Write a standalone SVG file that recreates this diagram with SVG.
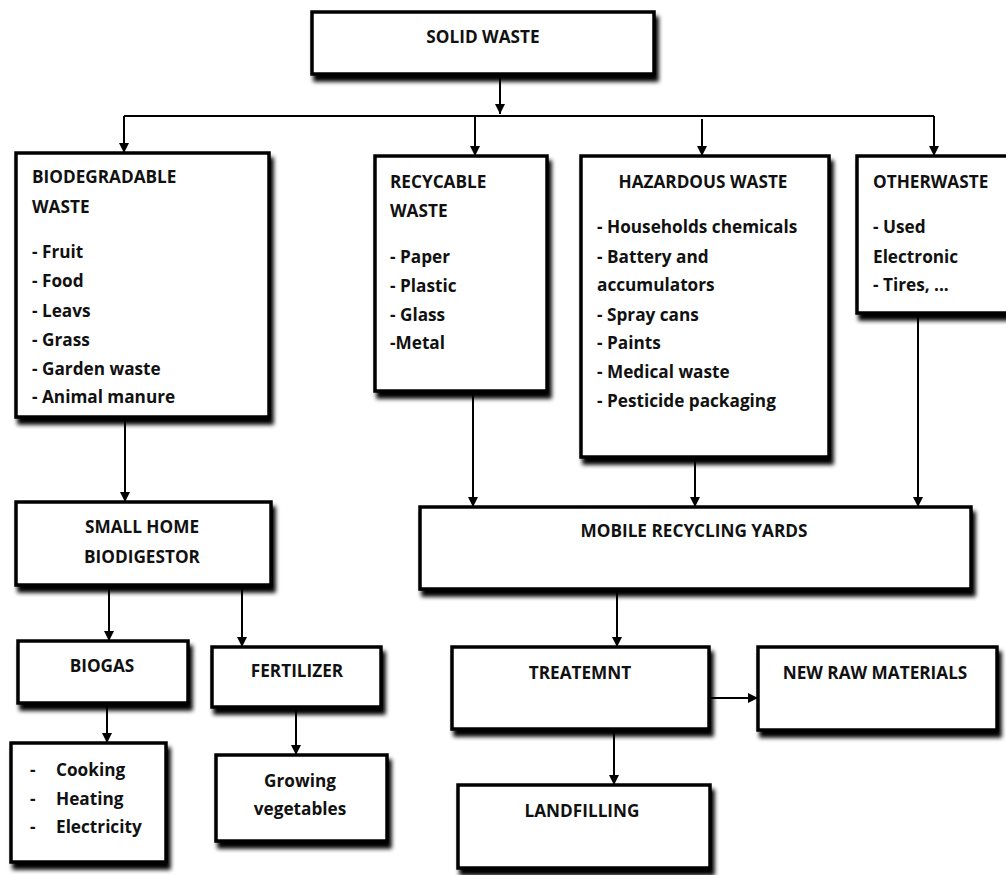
<svg xmlns="http://www.w3.org/2000/svg" width="1006" height="875" viewBox="0 0 1006 875">
<defs>
<style>
.box{fill:#fff;stroke:#000;stroke-width:3.5;filter:url(#sh)}
.t{font-family:"Open Sans","Liberation Sans",sans-serif;font-weight:700;font-size:17.2px;fill:#111}
.c{text-anchor:middle}
.ln{fill:none;stroke:#000;stroke-width:2}
.ar{fill:none;stroke:#000;stroke-width:2;marker-end:url(#ah)}
</style>
<filter id="sh" x="-10%" y="-10%" width="130%" height="140%">
<feDropShadow dx="3" dy="6" stdDeviation="2.2" flood-color="#000" flood-opacity="1"/>
</filter>
<marker id="ah" viewBox="0 0 10 10" refX="10" refY="5" markerWidth="5" markerHeight="5" orient="auto" markerUnits="strokeWidth">
<path d="M0,0L10,5L0,10z" fill="#000"/>
</marker>
</defs>
<rect width="1006" height="875" fill="#fff"/>
<g id="connectors">
<path class="ar" d="M500,76V114"/>
<path class="ln" d="M124,116H934"/>
<path class="ar" d="M124,116V153"/>
<path class="ar" d="M475,116V156"/>
<path class="ar" d="M702,119V156"/>
<path class="ar" d="M934,116V156"/>
<path class="ar" d="M125,419V502"/>
<path class="ar" d="M473,393V507"/>
<path class="ar" d="M695,459V507"/>
<path class="ar" d="M918,315V507"/>
<path class="ar" d="M109,587V641"/>
<path class="ar" d="M242,587V647"/>
<path class="ar" d="M107,705V743"/>
<path class="ar" d="M296,709V755"/>
<path class="ar" d="M617,591V647"/>
<path class="ar" d="M711,698H758"/>
<path class="ar" d="M614,731V785"/>
</g>
<g id="solid-waste">
<rect class="box" x="312" y="12" width="342" height="62"/>
<text class="t c" x="483" y="43">SOLID WASTE</text>
</g>
<g id="biodegradable">
<rect class="box" x="16" y="153" width="253" height="264"/>
<text class="t" x="32" y="183">BIODEGRADABLE</text>
<text class="t" x="32" y="213">WASTE</text>
<text class="t" x="32" y="258">- Fruit</text>
<text class="t" x="32" y="287">- Food</text>
<text class="t" x="32" y="317">- Leavs</text>
<text class="t" x="32" y="346">- Grass</text>
<text class="t" x="32" y="375">- Garden waste</text>
<text class="t" x="32" y="403">- Animal manure</text>
</g>
<g id="recycable">
<rect class="box" x="375" y="156" width="172" height="235"/>
<text class="t" x="390" y="188">RECYCABLE</text>
<text class="t" x="390" y="217">WASTE</text>
<text class="t" x="390" y="263">- Paper</text>
<text class="t" x="390" y="292">- Plastic</text>
<text class="t" x="390" y="321">- Glass</text>
<text class="t" x="390" y="349">-Metal</text>
</g>
<g id="hazardous">
<rect class="box" x="581" y="156" width="248" height="301"/>
<text class="t c" x="703" y="188">HAZARDOUS WASTE</text>
<text class="t" x="597" y="233">- Households chemicals</text>
<text class="t" x="597" y="263">- Battery and</text>
<text class="t" x="597" y="291">accumulators</text>
<text class="t" x="597" y="321">- Spray cans</text>
<text class="t" x="597" y="349">- Paints</text>
<text class="t" x="597" y="378">- Medical waste</text>
<text class="t" x="597" y="407">- Pesticide packaging</text>
</g>
<g id="otherwaste">
<rect class="box" x="857" y="156" width="160" height="157"/>
<text class="t" x="873" y="188">OTHERWASTE</text>
<text class="t" x="873" y="233">- Used</text>
<text class="t" x="873" y="263">Electronic</text>
<text class="t" x="873" y="291">- Tires, ...</text>
</g>
<g id="biodigestor">
<rect class="box" x="16" y="502" width="255" height="83"/>
<text class="t c" x="142" y="533">SMALL HOME</text>
<text class="t c" x="142" y="563">BIODIGESTOR</text>
</g>
<g id="mobile">
<rect class="box" x="420" y="507" width="551" height="82"/>
<text class="t c" x="694" y="537">MOBILE RECYCLING YARDS</text>
</g>
<g id="biogas">
<rect class="box" x="18" y="641" width="170" height="62"/>
<text class="t c" x="102" y="672">BIOGAS</text>
</g>
<g id="fertilizer">
<rect class="box" x="212" y="647" width="169" height="60"/>
<text class="t c" x="297" y="677">FERTILIZER</text>
</g>
<g id="treatment">
<rect class="box" x="452" y="647" width="257" height="82"/>
<text class="t c" x="580" y="679">TREATEMNT</text>
</g>
<g id="new-raw">
<rect class="box" x="758" y="647" width="239" height="83"/>
<text class="t c" x="875" y="679">NEW RAW MATERIALS</text>
</g>
<g id="uses">
<rect class="box" x="11" y="743" width="155" height="119"/>
<text class="t" x="30" y="776">-</text>
<text class="t" x="56" y="776">Cooking</text>
<text class="t" x="30" y="805">-</text>
<text class="t" x="56" y="805">Heating</text>
<text class="t" x="30" y="833">-</text>
<text class="t" x="56" y="833">Electricity</text>
</g>
<g id="growing">
<rect class="box" x="216" y="755" width="171" height="86"/>
<text class="t c" x="300" y="787">Growing</text>
<text class="t c" x="300" y="815">vegetables</text>
</g>
<g id="landfilling">
<rect class="box" x="458" y="785" width="252" height="83"/>
<text class="t c" x="582" y="817">LANDFILLING</text>
</g>
</svg>
